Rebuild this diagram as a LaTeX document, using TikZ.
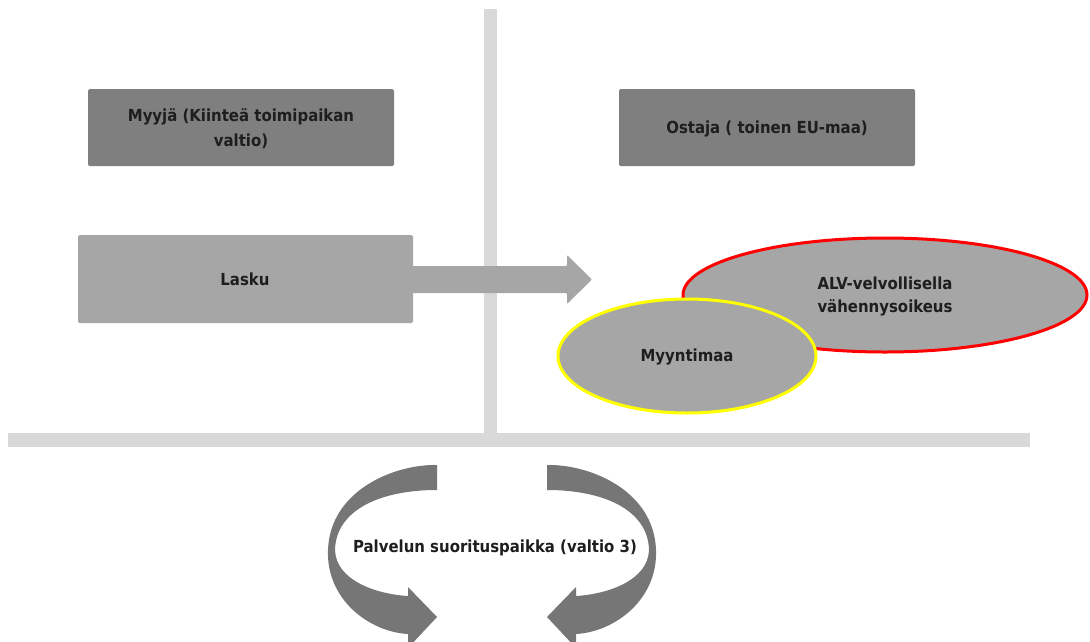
\documentclass[tikz,border=0pt]{standalone}
\usepackage{fontspec}
\setmainfont{DejaVu Sans Condensed}
\definecolor{darkbox}{HTML}{7F7F7F}
\definecolor{lightbox}{HTML}{A6A6A6}
\definecolor{barcol}{HTML}{D9D9D9}
\definecolor{curvcol}{HTML}{767676}
\definecolor{txtcol}{HTML}{1E1E1E}
\definecolor{redline}{HTML}{FF0000}
\definecolor{yelline}{HTML}{FFFF00}
\tikzset{
  lbl/.style={font=\bfseries\fontsize{16.6}{23}\selectfont, text=txtcol, align=center},
  darkrect/.style={fill=darkbox, draw=none, rounded corners=1.5pt},
  lightrect/.style={fill=lightbox, draw=none, rounded corners=1.5pt},
  bar/.style={fill=barcol, draw=none},
  oval/.style={fill=lightbox, line width=3pt},
  curvarrow/.style={fill=curvcol, draw=none},
}
\begin{document}
\begin{tikzpicture}[x=1pt,y=-1pt]
\useasboundingbox (0,0) rectangle (1090,641);
\clip (0,0) rectangle (1090,641);
% bars
\path[bar] (484,9) rectangle (497,436);
\path[bar] (8,433) rectangle (1030,447);
% boxes
\path[darkrect] (88,89) rectangle (394,166);
\node[lbl, font=\bfseries\fontsize{16.6}{25}\selectfont] (myyja) at (241,129) {Myyjä (Kiinteä toimipaikan\\valtio)};
\path[darkrect] (619,89) rectangle (915,166);
\node[lbl] (ostaja) at (767,129) {Ostaja ( toinen EU-maa)};
% straight arrow
\path[fill=lightbox, rounded corners=1pt] (405,266) -- (567,266) -- (567,255) -- (592,279.5) -- (567,304) -- (567,293) -- (405,293) -- cycle;
\path[lightrect] (78,235) rectangle (413,323);
\node[lbl] (lasku) at (245,279) {Lasku};
% ellipses
\draw[oval, draw=redline] (885,295) ellipse [x radius=202, y radius=57];
\node[lbl] (alv) at (885,296) {ALV-velvollisella\\vähennysoikeus};
\draw[oval, draw=yelline] (687,356) ellipse [x radius=129, y radius=57];
\node[lbl] (myynti) at (687,357) {Myyntimaa};
% curved arrows
\path[curvarrow] (437,465) .. controls (395,464) and (330,490) .. (328,550)
  .. controls (326,600) and (370,632) .. (408,634) -- (408,648) -- (437,617) -- (408,587) -- (408,596)
  .. controls (375,594) and (336,580) .. (335,550)
  .. controls (336,510) and (380,490) .. (437,490) -- cycle;
\path[curvarrow] (547,465) .. controls (589,464) and (654,490) .. (656,550)
  .. controls (658,600) and (614,632) .. (576,634) -- (576,648) -- (547,617) -- (576,587) -- (576,596)
  .. controls (609,594) and (648,580) .. (649,550)
  .. controls (648,510) and (604,490) .. (547,490) -- cycle;
\node[lbl] (place) at (495,548) {Palvelun suorituspaikka (valtio 3)};
\end{tikzpicture}
\end{document}
